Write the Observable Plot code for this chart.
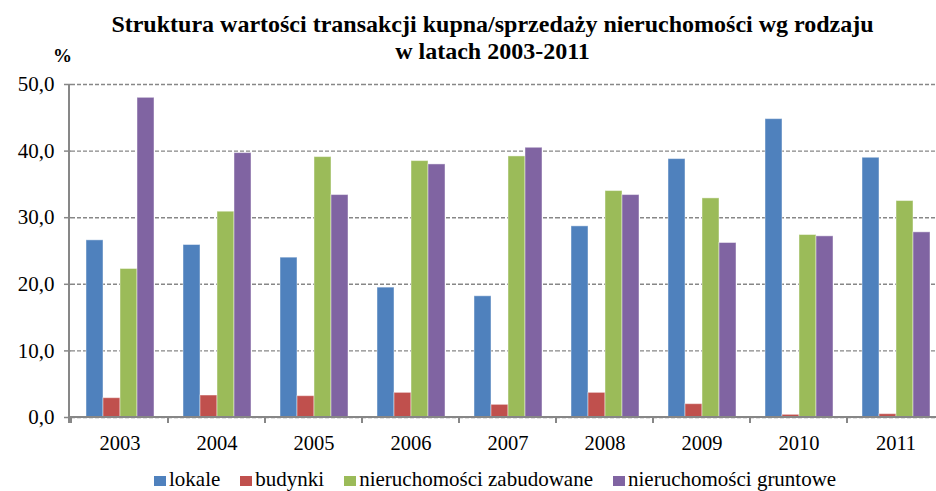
<!DOCTYPE html>
<html>
<head>
<meta charset="utf-8">
<script src="https://cdn.jsdelivr.net/npm/d3@7"></script>
<script src="https://cdn.jsdelivr.net/npm/@observablehq/plot@0.6"></script>
<style>
  html, body { margin: 0; padding: 0; background: #fff; overflow: hidden; }
  #wrap { position: relative; width: 936px; height: 491px; font-family: "Liberation Serif", "Times New Roman", serif; color: #000; }
  #chart { position: absolute; left: 0; top: 0; }
  #title { position: absolute; left: 49px; width: 887px; top: 11px; text-align: center; font-family: "Liberation Serif", "Times New Roman", serif; font-weight: bold; font-size: 24px; line-height: 27px; white-space: nowrap; }
  #unit { position: absolute; left: 53px; top: 44px; font-family: "Liberation Serif", "Times New Roman", serif; font-weight: bold; font-size: 19px; line-height: 24px; }
  #legend { position: absolute; left: 154px; top: 468px; display: flex; font-family: "Liberation Serif", "Times New Roman", serif; font-size: 21px; line-height: 22px; white-space: nowrap; }
  .item { display: flex; align-items: flex-start; margin-right: 20px; }
  .sw { width: 12px; height: 10px; margin-right: 3px; margin-top: 8px; }
</style>
</head>
<body>
<div id="wrap">
  <div id="chart"></div>
  <div id="title">Struktura wartości transakcji kupna/sprzedaży nieruchomości wg rodzaju<br>w latach 2003-2011</div>
  <div id="unit">%</div>
  <div id="legend"></div>
</div>
<script>
const years = ["2003","2004","2005","2006","2007","2008","2009","2010","2011"];
const series = ["lokale","budynki","nieruchomości zabudowane","nieruchomości gruntowe"];
const colors = ["#4F81BD","#C0504D","#9BBB59","#8064A2"];
const lokale     = [26.6, 25.9, 24.0, 19.5, 18.2, 28.7, 38.8, 44.8, 39.0];
const budynki    = [2.9, 3.3, 3.2, 3.7, 1.9, 3.7, 2.0, 0.4, 0.5];
const zabudowane = [22.3, 30.9, 39.1, 38.5, 39.2, 34.0, 32.9, 27.4, 32.5];
const gruntowe   = [48.0, 39.7, 33.4, 38.0, 40.5, 33.4, 26.2, 27.2, 27.8];
const yTicks = [0, 10, 20, 30, 40, 50];

const valuesBySeries = [lokale, budynki, zabudowane, gruntowe];
const data = [];
years.forEach((yr, i) => series.forEach((s, j) => data.push({year: yr, series: s, value: valuesBySeries[j][i]})));

const axisColor = "#878787";
const fmt = d => d3.format(".1f")(d).replace(".", ",");
const serif = "'Liberation Serif', 'Times New Roman', serif";

const plot = Plot.plot({
  width: 936,
  height: 491,
  marginTop: 84,
  marginBottom: 74,
  marginLeft: 69,
  marginRight: -9,
  style: {fontFamily: serif, fontSize: "21px", background: "transparent", color: "#000"},
  fx: {domain: years, padding: 0, label: null},
  x: {domain: series, paddingInner: 0, paddingOuter: 0.74, axis: null},
  y: {domain: [0, 50], label: null},
  color: {domain: series, range: colors},
  marks: [
    Plot.gridY(yTicks, {stroke: axisColor, strokeOpacity: 1, strokeWidth: 1.4, strokeDasharray: "4,2"}),
    Plot.barY(data, {fx: "year", x: "series", y: "value", fill: "series", stroke: "#fff", strokeOpacity: 0.45, strokeWidth: 1}),
    Plot.axisY(yTicks, {tickSize: 7, tickPadding: 10, tickFormat: fmt, stroke: axisColor, strokeWidth: 1.5, fontSize: 21, fontFamily: serif, label: null}),
    Plot.axisFx({anchor: "bottom", tickSize: 0, tickPadding: 18, fontSize: 20.5, fontFamily: serif, label: null})
  ]
});
document.getElementById("chart").appendChild(plot);

// axis lines and category boundary ticks, placed through Plot's own scales
const fx = plot.scale("fx");
const y = plot.scale("y");
const svg = d3.select(plot);
const g = svg.append("g").attr("stroke", axisColor).attr("fill", "none");
const x0 = fx.range[0];
g.append("line").attr("x1", x0).attr("x2", x0).attr("y1", y.apply(50)).attr("y2", y.apply(0) + 6).attr("stroke-width", 2);
g.append("line").attr("x1", x0).attr("x2", 936).attr("y1", y.apply(0)).attr("y2", y.apply(0)).attr("stroke-width", 2);
years.forEach(yr => {
  const xx = fx.apply(yr);
  g.append("line").attr("x1", xx).attr("x2", xx).attr("y1", y.apply(0)).attr("y2", y.apply(0) + 6).attr("stroke-width", 2);
});

// legend
const legend = d3.select("#legend");
series.forEach((s, i) => {
  const it = legend.append("div").attr("class", "item");
  it.append("div").attr("class", "sw").style("background", colors[i]);
  it.append("span").text(s);
});
</script>
</body>
</html>
